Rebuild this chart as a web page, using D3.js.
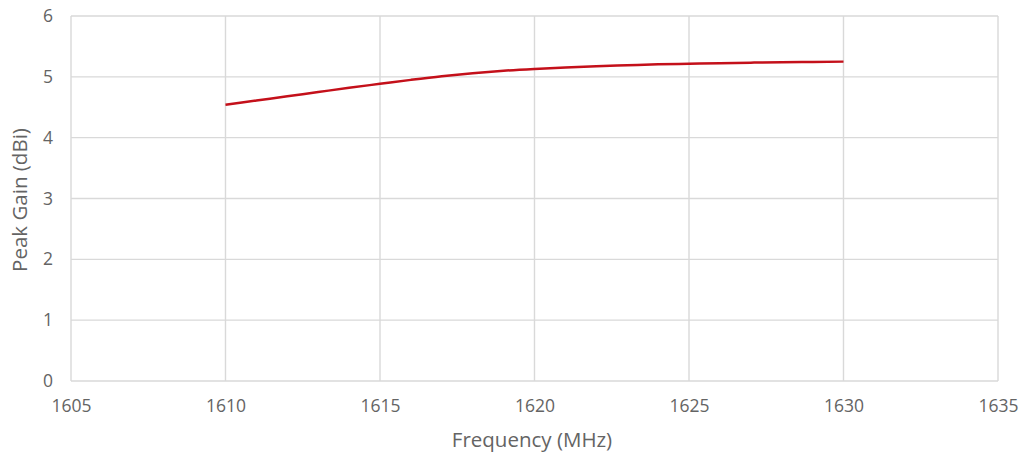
<!DOCTYPE html>
<html><head><meta charset="utf-8">
<script src="https://cdn.jsdelivr.net/npm/d3@7"></script>
<style>body{margin:0;background:#fff;} svg{display:block;}</style>
</head><body>
<svg id="c" width="1025" height="457"></svg>
<script>
const frequency = [1610,1611,1612,1613,1614,1615,1616,1617,1618,1619,1620,1621,1622,1623,1624,1625,1626,1627,1628,1629,1630];
const peakGain  = [4.54,4.61,4.68,4.75,4.82,4.885,4.95,5.01,5.06,5.10,5.13,5.155,5.175,5.19,5.205,5.215,5.225,5.233,5.24,5.245,5.25];
const xTicks = [1605,1610,1615,1620,1625,1630,1635];
const yTicks = [0,1,2,3,4,5,6];

const svg = d3.select("#c");
const m = {left:71, top:16, right:998, bottom:381};
const x = d3.scaleLinear().domain([1605,1635]).range([m.left, m.right]);
const y = d3.scaleLinear().domain([0,6]).range([m.bottom, m.top]);
const font = "'Open Sans', sans-serif";
const txt = "#646464";

svg.append("g").selectAll("line").data(xTicks).join("line")
  .attr("x1", d=>x(d)).attr("x2", d=>x(d)).attr("y1", m.top).attr("y2", m.bottom)
  .attr("stroke", "#d9d9d9").attr("stroke-width", 1.4);
svg.append("g").selectAll("line").data(yTicks).join("line")
  .attr("x1", m.left).attr("x2", m.right).attr("y1", d=>y(d)).attr("y2", d=>y(d))
  .attr("stroke", "#d9d9d9").attr("stroke-width", 1.4);

const xAxis = svg.append("g").attr("transform", `translate(0,${m.bottom})`)
  .call(d3.axisBottom(x).tickValues(xTicks).tickSize(0).tickPadding(19).tickFormat(d3.format("d")));
const yAxis = svg.append("g").attr("transform", `translate(${m.left},0)`)
  .call(d3.axisLeft(y).tickValues(yTicks).tickSize(0).tickPadding(18).tickFormat(d3.format("d")));
[xAxis, yAxis].forEach(g => {
  g.select(".domain").remove();
  g.selectAll("text").attr("fill", txt).style("font-family", font).style("font-size", "17.5px");
});

svg.append("path").datum(frequency.map((f,i)=>[f, peakGain[i]]))
  .attr("fill","none").attr("stroke","#c4101a").attr("stroke-width",2.5)
  .attr("stroke-linejoin","round")
  .attr("d", d3.line().x(d=>x(d[0])).y(d=>y(d[1])).curve(d3.curveMonotoneX));

svg.append("text").attr("x", 532).attr("y", 447).attr("text-anchor","middle")
  .attr("fill", txt).style("font-family", font).style("font-size","20.5px").text("Frequency (MHz)");
svg.append("text").attr("transform","translate(27,200) rotate(-90)").attr("text-anchor","middle")
  .attr("fill", txt).style("font-family", font).style("font-size","20.5px").text("Peak Gain (dBi)");
</script>
</body></html>
